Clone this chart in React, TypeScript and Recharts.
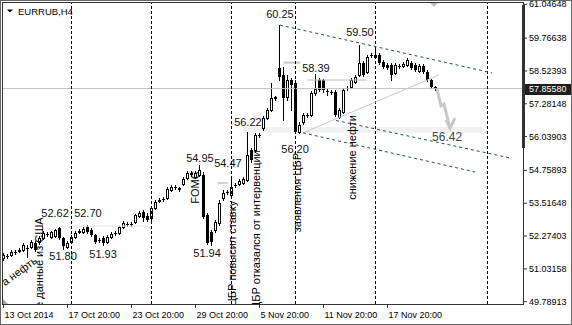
import React from 'react';
import {
  ComposedChart,
  Bar,
  Line,
  Scatter,
  XAxis,
  YAxis,
  ReferenceLine,
  ReferenceArea,
} from 'recharts';

const FONT = "'Liberation Sans', Arial, sans-serif";
const NARROW = "'Liberation Sans Narrow', 'Liberation Sans', Arial, sans-serif";

// ---- axis ticks ----
const xTickValues = [0, 16, 32, 48, 64, 80, 96];
const xTickLabels = ['13 Oct 2014', '17 Oct 20:00', '23 Oct 20:00', '29 Oct 20:00', '5 Nov 20:00', '11 Nov 20:00', '17 Nov 20:00'];
const yTickValues = [61.04648, 59.76638, 58.52393, 57.28148, 56.03903, 54.75893, 53.51648, 52.27403, 51.03158, 49.78913];
const yDomain = [49.7021, 61.0957];
const xDomain = [-0.125, 129.875];
const lastPrice = 57.8558;

// ---- H4 candles ----
const opens = [
  51.44, 51.52, 51.56, 51.67, 51.71, 51.75, 51.82, 51.86, 52.01, 52.05,
  52.20, 52.35, 52.24, 52.28, 52.58, 52.20, 51.86, 52.05, 52.24, 52.43,
  52.43, 52.62, 52.50, 52.31, 52.12, 52.20, 52.05, 52.24, 52.39, 52.39,
  52.62, 52.73, 52.73, 52.81, 53.03, 53.18, 53.03, 52.96, 53.34, 53.60,
  53.68, 53.71, 54.02, 54.13, 54.09, 54.24, 54.47, 54.62, 54.51, 54.58,
  54.58, 53.07, 52.43, 52.50, 52.77, 53.71, 53.94, 53.83, 54.21, 54.24,
  54.28, 54.40, 55.53, 55.53, 56.10, 56.36, 56.74, 57.05, 57.54, 58.64,
  58.37, 57.54, 58.18, 58.07, 56.21, 56.59, 56.86, 56.86, 57.69, 58.18,
  58.18, 57.76, 57.73, 57.73, 56.78, 56.97, 57.88, 57.92, 58.11, 58.37,
  58.82, 58.48, 59.13, 59.05, 59.13, 58.86, 58.75, 58.75, 58.45, 58.71,
  58.71, 58.75, 58.82, 58.75, 58.52, 58.71, 58.48, 58.18, 57.92,
];
const highs = [
  51.63, 51.60, 51.75, 51.75, 51.82, 52.01, 51.94, 52.12, 52.09, 52.28,
  52.47, 52.43, 52.47, 52.54, 52.62, 52.24, 52.09, 52.31, 52.47, 52.54,
  52.62, 52.70, 52.58, 52.35, 52.20, 52.28, 52.31, 52.43, 52.47, 52.65,
  52.84, 52.81, 52.81, 53.11, 53.22, 53.26, 53.15, 53.41, 53.64, 53.71,
  53.75, 54.13, 54.21, 54.21, 54.13, 54.51, 54.74, 54.74, 54.74, 54.95,
  54.70, 53.15, 52.50, 52.88, 53.64, 54.02, 54.02, 54.47, 54.28, 54.43,
  54.51, 56.22, 55.61, 56.17, 56.17, 56.82, 57.12, 58.07, 57.58, 60.25,
  58.67, 58.37, 58.26, 58.18, 56.59, 56.93, 56.93, 57.76, 58.39, 58.26,
  58.22, 57.84, 57.80, 57.80, 57.12, 57.88, 57.95, 58.26, 58.37, 59.50,
  58.90, 59.13, 59.20, 59.39, 59.20, 58.94, 58.82, 58.82, 58.82, 58.79,
  58.86, 59.01, 58.90, 58.82, 58.79, 58.79, 58.56, 58.22, 57.95,
];
const lows = [
  51.37, 51.44, 51.52, 51.59, 51.67, 51.71, 51.48, 51.82, 51.71, 51.97,
  52.16, 52.28, 52.20, 52.24, 52.16, 51.80, 51.82, 52.01, 52.20, 52.39,
  52.39, 52.39, 52.28, 52.01, 52.05, 51.93, 52.01, 52.20, 52.31, 52.35,
  52.58, 52.65, 52.65, 52.77, 52.99, 52.84, 52.84, 52.88, 53.30, 53.56,
  53.60, 53.68, 53.98, 54.06, 53.98, 54.21, 54.43, 54.55, 54.47, 54.55,
  52.96, 51.97, 51.94, 52.43, 52.69, 53.64, 53.87, 53.79, 54.13, 54.21,
  54.24, 54.36, 55.08, 55.46, 56.02, 56.29, 56.71, 57.01, 57.42, 58.18,
  56.67, 57.42, 57.05, 56.20, 56.18, 56.52, 56.78, 56.82, 57.61, 57.76,
  57.73, 57.61, 57.65, 56.82, 56.76, 56.93, 57.80, 57.88, 58.07, 58.33,
  58.33, 58.45, 59.05, 59.01, 58.79, 58.64, 58.60, 58.18, 58.41, 58.64,
  58.67, 58.71, 58.60, 58.52, 58.48, 58.45, 58.14, 57.88, 57.82,
];
const closes = [
  51.56, 51.53, 51.67, 51.65, 51.75, 51.94, 51.83, 52.05, 51.75, 52.20,
  52.39, 52.36, 52.43, 52.50, 52.20, 51.90, 52.01, 52.24, 52.39, 52.47,
  52.54, 52.43, 52.31, 52.05, 52.13, 52.01, 52.24, 52.35, 52.40, 52.62,
  52.77, 52.74, 52.74, 53.07, 53.15, 52.96, 52.88, 53.34, 53.56, 53.64,
  53.67, 54.06, 54.13, 54.14, 54.02, 54.43, 54.66, 54.66, 54.66, 54.77,
  52.99, 52.01, 52.05, 52.81, 53.52, 53.90, 53.95, 54.13, 54.22, 54.36,
  54.43, 55.34, 55.15, 56.10, 56.11, 56.74, 57.05, 57.50, 57.46, 58.30,
  57.50, 58.18, 57.99, 56.21, 56.48, 56.86, 56.87, 57.69, 57.84, 57.80,
  57.80, 57.73, 57.72, 56.86, 57.05, 57.80, 57.89, 58.18, 58.30, 58.82,
  58.37, 59.05, 59.12, 59.13, 58.82, 58.67, 58.64, 58.37, 58.75, 58.72,
  58.79, 58.94, 58.64, 58.56, 58.71, 58.48, 58.18, 57.92, 57.8558,
];

// ---- drawn objects (bar index / price) ----
const newsBars = [17, 37, 57, 73, 93, 121];
const channelTop = [{ x: 69.125, y: 60.26 }, { x: 122.125, y: 58.45 }];
const channelMid = [{ x: 83.125, y: 56.65 }, { x: 126.625, y: 55.23 }];
const channelLow = [{ x: 74.875, y: 56.18 }, { x: 117.875, y: 54.70 }];
const trendGray = [{ x: 74.875, y: 56.18 }, { x: 108.875, y: 58.37 }];
const levelA = [{ x: 70.0, y: 58.84 }, { x: 74.2, y: 58.84 }];
const levelB = [{ x: 75.9, y: 58.18 }, { x: 90.9, y: 58.18 }];
const levelC = [{ x: 14.1, y: 52.65 }, { x: 35.9, y: 52.65 }];
const levelD = [{ x: 53.6, y: 54.28 }, { x: 56.1, y: 54.28 }];
const zoneBand = { x1: 59.875, x2: 119.875, y1: 56.18, y2: 56.40 };
const forecastPath = [
  { x: 108.375, y: 57.84 },
  { x: 109.375, y: 57.20 },
  { x: 110.125, y: 57.27 },
  { x: 111.625, y: 56.36 },
];
const forecastHead = [
  { x: 110.625, y: 56.67 },
  { x: 111.625, y: 56.36 },
  { x: 112.875, y: 56.74 },
];

const priceNotes = [
  { x: 69.1, y: 60.68, text: '60.25' },
  { x: 89.1, y: 60.0, text: '59.50' },
  { x: 78.1, y: 58.635, text: '58.39' },
  { x: 61.1, y: 56.59, text: '56.22' },
  { x: 72.9, y: 55.57, text: '56.20' },
  { x: 49.1, y: 55.23, text: '54.95' },
  { x: 56.1, y: 55.04, text: '54.47' },
  { x: 50.9, y: 51.63, text: '51.94' },
  { x: 12.9, y: 53.15, text: '52.62' },
  { x: 21.1, y: 53.15, text: '52.70' },
  { x: 14.9, y: 51.52, text: '51.80' },
  { x: 24.9, y: 51.59, text: '51.93' },
];
const targetNote = [{ x: 110.9, y: 56.02, text: '56.42' }];
const newsNotes = [
  { x: 8.9, y: 51.12, text: 'ые данные из США' },
  { x: 47.9, y: 54.11, text: 'FOMC' },
  { x: 57.1, y: 51.61, text: 'ЦБР повысил ставку' },
  { x: 63.1, y: 52.50, text: 'ЦБР отказался от интервенции' },
  { x: 73.4, y: 53.92, text: 'заявления ЦБР' },
  { x: 87.1, y: 55.25, text: 'снижение нефти' },
];
const slantNote = [{ x: 3.9, y: 50.95, text: 'а нефть' }];

const candles = opens.map((o, i) => ({
  x: i,
  range: [lows[i], highs[i]],
  o,
  h: highs[i],
  l: lows[i],
  c: closes[i],
}));

function Candle(props: any) {
  const { x, y, width, height, payload } = props;
  if (!payload || x == null || y == null || height == null) return null;
  const top = Math.min(y, y + height);
  const span = Math.abs(height);
  const { o, h, l, c } = payload;
  const k = span / (h - l || 1);
  const py = (v: number) => top + (h - v) * k;
  const cx = Math.floor(x + width / 2) + 0.5;
  const yo = py(o);
  const yc = py(c);
  const bTop = Math.round(Math.min(yo, yc));
  const bBot = Math.round(Math.max(yo, yc));
  const wTop = Math.round(top);
  const wBot = Math.round(top + span);
  let body;
  if (bBot - bTop < 1) {
    body = <line x1={cx - 1.5} x2={cx + 1.5} y1={bTop + 0.5} y2={bTop + 0.5} stroke="#000" />;
  } else if (c > o) {
    body = <rect x={cx - 1} y={bTop + 0.5} width={2} height={bBot - bTop} fill="#fff" stroke="#000" />;
  } else {
    body = <rect x={cx - 1.5} y={bTop} width={3} height={Math.max(1, bBot - bTop)} fill="#000" />;
  }
  return (
    <g>
      <line x1={cx} x2={cx} y1={wTop} y2={wBot + 1} stroke="#000" />
      {body}
    </g>
  );
}

function PriceNote(props: any) {
  const { cx, cy, payload } = props;
  return (
    <text x={cx} y={cy} textAnchor="middle" dominantBaseline="central" fontFamily={NARROW} fontSize={11} fill="#111">
      {payload.text}
    </text>
  );
}

function TargetNote(props: any) {
  const { cx, cy, payload } = props;
  return (
    <text x={cx} y={cy} textAnchor="middle" dominantBaseline="central" fontFamily={FONT} fontSize={12} fill="#444">
      {payload.text}
    </text>
  );
}

function NewsNote(props: any) {
  const { cx, cy, payload } = props;
  return (
    <text
      x={cx}
      y={cy}
      textAnchor="middle"
      dominantBaseline="central"
      fontFamily={NARROW}
      fontSize={11}
      fill="#000"
      transform={`rotate(-90 ${cx} ${cy})`}
    >
      {payload.text}
    </text>
  );
}

function SlantNote(props: any) {
  const { cx, cy, payload } = props;
  return (
    <text
      x={cx}
      y={cy}
      textAnchor="middle"
      dominantBaseline="central"
      fontFamily={NARROW}
      fontSize={11}
      fill="#000"
      transform={`rotate(-36 ${cx} ${cy})`}
    >
      {payload.text}
    </text>
  );
}

function XTick(props: any) {
  const { x, y, payload } = props;
  const idx = xTickValues.indexOf(payload.value);
  return (
    <text x={x + 1} y={y} dy={8} fontSize={9} fontFamily={FONT} fill="#000">
      {xTickLabels[idx]}
    </text>
  );
}

function YTick(props: any) {
  const { x, y, payload } = props;
  return (
    <text x={x} y={y} dominantBaseline="central" fontSize={9} fontFamily={FONT} fill="#000">
      {Number(payload.value).toFixed(5)}
    </text>
  );
}

function PriceTag(props: any) {
  const vb = props.viewBox || {};
  const x0 = (vb.x || 0) + (vb.width || 0) + 2;
  const yc = vb.y || 0;
  return (
    <g>
      <rect x={x0} y={Math.round(yc) - 5} width={47} height={11} fill="#1e1e1e" />
      <text x={x0 + 4} y={yc + 0.5} dominantBaseline="central" fontSize={9} fontFamily={FONT} fill="#fff">
        {lastPrice.toFixed(5)}
      </text>
    </g>
  );
}

export default function App() {
  return (
    <div style={{ position: 'absolute', left: 0, top: 0, width: 572, height: 325, background: '#fff' }}>
      <ComposedChart width={572} height={325} data={candles} margin={{ top: 3, right: 0, bottom: 0, left: 3 }}>
        <XAxis
          dataKey="x"
          type="number"
          domain={xDomain}
          ticks={xTickValues}
          allowDataOverflow
          height={21}
          tickSize={4}
          interval={0}
          axisLine={false}
          tickLine={{ stroke: '#333' }}
          tick={<XTick />}
        />
        <YAxis
          orientation="right"
          type="number"
          domain={yDomain}
          ticks={yTickValues}
          allowDataOverflow
          width={49}
          tickSize={4}
          tickMargin={2}
          interval={0}
          axisLine={false}
          tickLine={{ stroke: '#333' }}
          tick={<YTick />}
        />
        <ReferenceArea {...zoneBand} fill="#f1f1f1" fillOpacity={1} stroke="none" />
        <ReferenceLine segment={levelC} stroke="#e4e4e4" strokeWidth={1} />
        <ReferenceLine segment={levelD} stroke="#cfcfcf" strokeWidth={2} />
        <ReferenceLine segment={levelA} stroke="#c8c8c8" strokeWidth={2} />
        <ReferenceLine segment={levelB} stroke="#bdbdbd" strokeWidth={1} />
        <ReferenceLine y={lastPrice} stroke="#c0c0c0" label={<PriceTag />} />
        {newsBars.map((b) => (
          <ReferenceLine key={b} x={b} stroke="#000" strokeDasharray="3 2" />
        ))}
        <ReferenceLine segment={trendGray} stroke="#c8c8c8" strokeWidth={1} />
        <ReferenceLine segment={channelTop} stroke="#2f4f4f" strokeDasharray="3 3" />
        <ReferenceLine segment={channelMid} stroke="#2f4f4f" strokeDasharray="3 3" />
        <ReferenceLine segment={channelLow} stroke="#2f4f4f" strokeDasharray="3 3" />
        <Bar dataKey="range" barSize={3} shape={(p: any) => <Candle {...p} />} isAnimationActive={false} />
        <Line data={forecastPath} dataKey="y" type="linear" stroke="#c8c8c8" strokeWidth={3} dot={false} isAnimationActive={false} />
        <Line data={forecastHead} dataKey="y" type="linear" stroke="#c8c8c8" strokeWidth={3} dot={false} isAnimationActive={false} />
        <Scatter data={priceNotes} dataKey="y" shape={(p: any) => <PriceNote {...p} />} isAnimationActive={false} />
        <Scatter data={targetNote} dataKey="y" shape={(p: any) => <TargetNote {...p} />} isAnimationActive={false} />
        <Scatter data={newsNotes} dataKey="y" shape={(p: any) => <NewsNote {...p} />} isAnimationActive={false} />
        <Scatter data={slantNote} dataKey="y" shape={(p: any) => <SlantNote {...p} />} isAnimationActive={false} />
      </ComposedChart>
      <svg width={572} height={325} style={{ position: 'absolute', left: 0, top: 0, pointerEvents: 'none' }}>
        <rect x={0.5} y={0.5} width={571} height={324} fill="none" stroke="#666" />
        <rect x={2.5} y={2.5} width={521} height={302} fill="none" stroke="#333" />
        <rect x={522} y={5} width={3} height={143} fill="#333" />
        <polygon points="7,9.5 13,9.5 10,12.5" fill="#000" />
        <text x={18} y={14.5} fontSize={9.5} fontFamily={FONT} fill="#000">EURRUB,H4</text>
        <polygon points="430,3 438,3 434,7" fill="#c0c0c0" />
        <polygon points="3,299 3,304 8,304" fill="#aaa" />
      </svg>
    </div>
  );
}
